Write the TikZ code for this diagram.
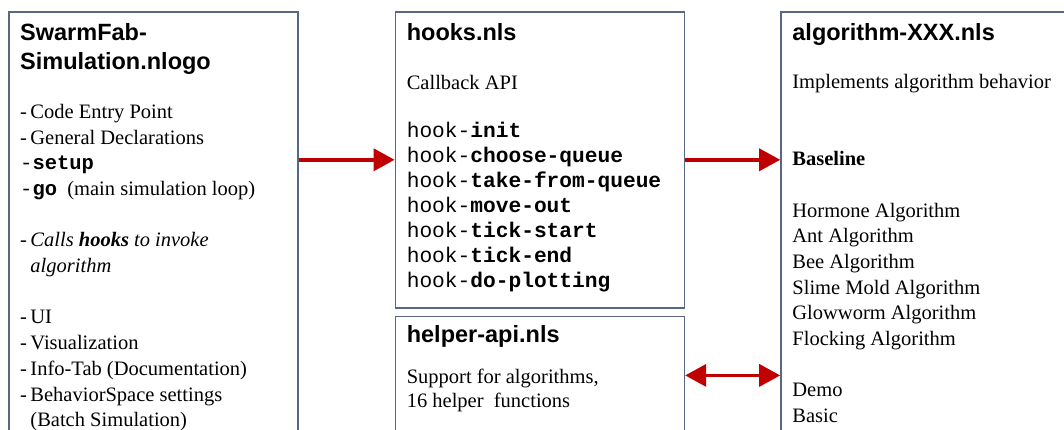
\documentclass[tikz,border=0pt]{standalone}
\usepackage{fontspec}
\setmainfont{Liberation Serif}
\setsansfont{Liberation Sans}
\setmonofont{Liberation Mono}
\usetikzlibrary{arrows.meta,positioning}
\definecolor{boxline}{RGB}{89,104,130}
\definecolor{arrowred}{RGB}{192,0,0}
\tikzstyle{filebox}=[draw=boxline, line width=1.6pt, rectangle, minimum width=289pt, inner sep=0pt]
\tikzstyle{filename}=[inner sep=0pt, align=left, font=\fontsize{23.5}{28.5}\sffamily\bfseries]
\tikzstyle{filetext}=[inner sep=0pt, align=left, font=\fontsize{20.5}{25.7}\selectfont]
\tikzstyle{hooklist}=[inner sep=0pt, align=left, font=\fontsize{21.2}{25}\ttfamily]
\tikzstyle{link}=[draw=arrowred, line width=3.5pt]
\newcommand{\dashitem}{-\,}
\newcommand{\dashpad}{\phantom{-\,}}

\begin{document}
% text nodes are placed by the baseline of their last line
\begin{tikzpicture}[x=1pt, y=-1pt, >={Triangle[length=21pt,width=22pt]}]
    \useasboundingbox (0,0) rectangle (1064,430);
    \clip (0,0) rectangle (1064,430);
    % file boxes
    \node [filebox, minimum height=440pt, anchor=north west] (simulation) at (8,11) {};
    \node [filebox, minimum height=296pt, right=96pt of simulation.north east, anchor=north west] (hooks) {};
    \node [filebox, minimum height=118pt, below=7pt of hooks.south west, anchor=north west] (helper) {};
    \node [filebox, minimum height=440pt, right=95pt of hooks.north east, anchor=north west] (algorithm) {};

    % simulation.nlogo
    \node [filename, below right=58.5pt and 12pt of simulation.north west, anchor=base west] (simulation_title) {SwarmFab-\\Simulation.nlogo};
    \node [filetext, below right=415.7pt and 12pt of simulation.north west, anchor=base west] (simulation_text) {%
        \dashitem Code Entry Point\\
        \dashitem General Declarations\\
        {\ttfamily -\textbf{setup}}\\
        {\ttfamily -\textbf{go}}\ \ (main simulation loop)\\
        \\
        \dashitem\textit{Calls \textbf{hooks} to invoke}\\
        \dashpad\textit{algorithm}\\
        \\
        \dashitem UI\\
        \dashitem Visualization\\
        \dashitem Info-Tab (Documentation)\\
        \dashitem BehaviorSpace settings\\
        \dashpad(Batch Simulation)};

    % hooks.nls
    \node [filename, below right=30pt and 12pt of hooks.north west, anchor=base west] (hooks_title) {hooks.nls};
    \node [filetext, below right=78.3pt and 12pt of hooks.north west, anchor=base west] (hooks_text) {Callback API};
    \node [hooklist, below right=276.3pt and 12pt of hooks.north west, anchor=base west] (hooks_list) {%
        hook-\textbf{init}\\
        hook-\textbf{choose-queue}\\
        hook-\textbf{take-from-queue}\\
        hook-\textbf{move-out}\\
        hook-\textbf{tick-start}\\
        hook-\textbf{tick-end}\\
        hook-\textbf{do-plotting}};

    % helper-api.nls
    \node [filename, below right=26.7pt and 12pt of helper.north west, anchor=base west] (helper_title) {helper-api.nls};
    \node [filetext, font=\fontsize{20.5}{24.5}\selectfont, below right=92.2pt and 12pt of helper.north west, anchor=base west] (helper_text) {Support for algorithms,\\16 helper\ \ functions};

    % algorithm-XXX.nls
    \node [filename, below right=30pt and 12pt of algorithm.north west, anchor=base west] (algorithm_title) {algorithm-XXX.nls};
    \node [filetext, below right=77.5pt and 12pt of algorithm.north west, anchor=base west] (algorithm_text) {Implements\ algorithm\ behavior};
    \node [filetext, below right=154.6pt and 12pt of algorithm.north west, anchor=base west] (baseline) {\textbf{Baseline}};
    \node [filetext, below right=334.5pt and 12pt of algorithm.north west, anchor=base west] (algorithm_list) {%
        Hormone Algorithm\\
        Ant Algorithm\\
        Bee Algorithm\\
        Slime Mold Algorithm\\
        Glowworm Algorithm\\
        Flocking Algorithm};
    \node [filetext, below right=411.6pt and 12pt of algorithm.north west, anchor=base west] (demo_list) {Demo\\Basic};

    % links
    \draw [link, ->] (simulation.east |- hooks.west) -- (hooks.west);
    \draw [link, ->] (hooks.east) -- (algorithm.west |- hooks.east);
    \draw [link, <->] (helper.east) -- (algorithm.west |- helper.east);
\end{tikzpicture}
\end{document}
